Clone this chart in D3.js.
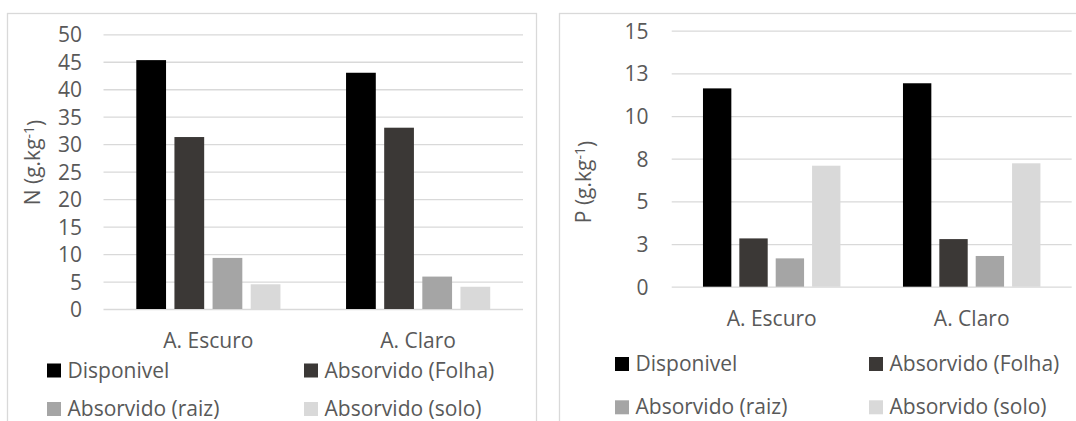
<!DOCTYPE html>
<html>
<head>
<meta charset="utf-8">
<script src="https://cdn.jsdelivr.net/npm/d3@7"></script>
<style>
  html, body { margin: 0; padding: 0; background: #ffffff; }
  svg { display: block; font-family: "Open Sans", sans-serif; }
</style>
</head>
<body>
<svg id="chart" width="1076" height="421"></svg>
<script>
// ---- Data ----
const categories = ["A. Escuro", "A. Claro"];
const seriesNames = ["Disponivel", "Absorvido (Folha)", "Absorvido (raiz)", "Absorvido (solo)"];
const seriesColors = ["#000000", "#3b3836", "#a5a5a5", "#d9d9d9"];

// N (g.kg-1)
const nDisponivel = [45.3, 43.0];
const nFolha = [31.3, 33.0];
const nRaiz = [9.3, 5.9];
const nSolo = [4.5, 4.05];
const nTicks = [0, 5, 10, 15, 20, 25, 30, 35, 40, 45, 50];
const nTickLabels = ["0", "5", "10", "15", "20", "25", "30", "35", "40", "45", "50"];

// P (g.kg-1)
const pDisponivel = [11.62, 11.92];
const pFolha = [2.83, 2.79];
const pRaiz = [1.66, 1.80];
const pSolo = [7.09, 7.23];
const pTicks = [0, 2.5, 5, 7.5, 10, 12.5, 15];
const pTickLabels = ["0", "3", "5", "8", "10", "13", "15"];

const svg = d3.select("#chart");
const textColor = "#595959";
const gridColor = "#d9d9d9";
const FS = "21px";

function drawPanel(cfg) {
  const g = svg.append("g");
  // panel border
  g.append("rect")
    .attr("x", cfg.box[0]).attr("y", cfg.box[1])
    .attr("width", cfg.box[2]).attr("height", cfg.box[3])
    .attr("fill", "none").attr("stroke", gridColor).attr("stroke-width", 1.3);

  const y = d3.scaleLinear().domain(cfg.domain).range([cfg.plot.bottom, cfg.plot.top]);
  const x0 = d3.scaleBand().domain(categories).range([cfg.plot.left, cfg.plot.right]).padding(0);
  const x1 = d3.scaleBand().domain(seriesNames).range([0, x0.bandwidth()])
    .paddingInner(0.22).paddingOuter(0.86);

  // gridlines + tick labels
  const yAxis = d3.axisLeft(y).tickValues(cfg.ticks)
    .tickSize(-(cfg.plot.right - cfg.plot.left))
    .tickFormat((d, i) => cfg.tickLabels[i]);
  const ax = g.append("g").attr("transform", `translate(${cfg.plot.left},0)`).call(yAxis);
  ax.select(".domain").remove();
  ax.selectAll(".tick line").attr("stroke", gridColor).attr("stroke-width", 1.3);
  ax.selectAll(".tick text")
    .attr("x", -(cfg.plot.left - cfg.tickLabelRight))
    .attr("dy", "0.36em")
    .attr("fill", textColor)
    .style("font-size", FS)
    .style("font-family", "'Open Sans', sans-serif");

  // bars
  const seriesData = cfg.series;
  seriesNames.forEach((s, si) => {
    g.selectAll(null).data(categories).enter().append("rect")
      .attr("x", c => x0(c) + x1(s))
      .attr("width", x1.bandwidth())
      .attr("y", (c, ci) => y(seriesData[si][ci]))
      .attr("height", (c, ci) => y(0) - y(seriesData[si][ci]))
      .attr("fill", seriesColors[si]);
  });

  // category labels
  const xAxis = d3.axisBottom(x0).tickSize(0).tickPadding(0);
  const xa = g.append("g").attr("transform", `translate(0,${cfg.plot.bottom})`).call(xAxis);
  xa.select(".domain").remove();
  xa.selectAll(".tick text")
    .attr("y", cfg.catBaseline - cfg.plot.bottom).attr("dy", 0)
    .attr("fill", textColor)
    .style("font-size", FS)
    .style("font-family", "'Open Sans', sans-serif");

  // y title
  const t = g.append("text")
    .attr("transform", `translate(${cfg.titleX},${cfg.titleY}) rotate(-90)`)
    .attr("text-anchor", "middle")
    .attr("fill", textColor)
    .style("font-size", FS);
  t.append("tspan").text(cfg.title + " (g.kg");
  t.append("tspan").text("-1").attr("dy", "-0.45em").style("font-size", "14px");
  t.append("tspan").text(")").attr("dy", "0.45em");

  // legend
  seriesNames.forEach((s, i) => {
    const col = i % 2, row = Math.floor(i / 2);
    const lx = cfg.legend.cols[col], ly = cfg.legend.rows[row];
    g.append("rect").attr("x", lx).attr("y", ly - 14).attr("width", 14).attr("height", 14)
      .attr("fill", seriesColors[i]);
    g.append("text").attr("x", lx + 20.5).attr("y", ly).text(s)
      .attr("fill", textColor).style("font-size", FS);
  });
}

drawPanel({
  box: [7.5, 13.5, 529, 430],
  plot: { left: 103.5, right: 523, top: 34.3, bottom: 309 },
  domain: [0, 50],
  ticks: nTicks, tickLabels: nTickLabels,
  tickLabelRight: 82,
  series: [nDisponivel, nFolha, nRaiz, nSolo],
  catBaseline: 348,
  title: "N", titleX: 40, titleY: 162.5,
  legend: { cols: [47, 304], rows: [377.5, 416] }
});

drawPanel({
  box: [559.5, 13.5, 540, 430],
  plot: { left: 671.7, right: 1071.7, top: 30.7, bottom: 286.7 },
  domain: [0, 15],
  ticks: pTicks, tickLabels: pTickLabels,
  tickLabelRight: 648.5,
  series: [pDisponivel, pFolha, pRaiz, pSolo],
  catBaseline: 326.5,
  title: "P", titleX: 591, titleY: 182,
  legend: { cols: [615, 869], rows: [371, 414.3] }
});
</script>
</body>
</html>
